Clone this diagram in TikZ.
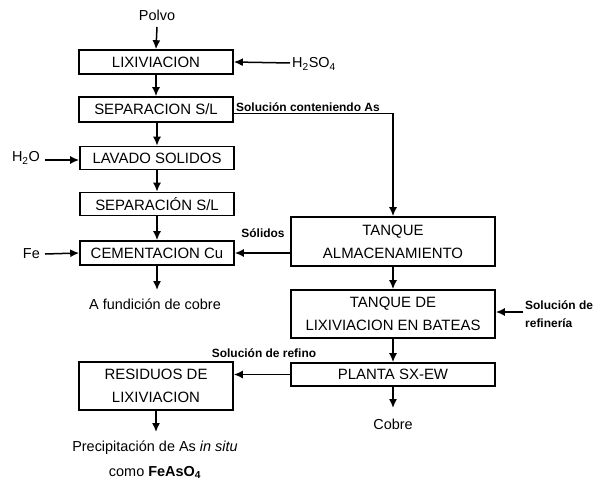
\documentclass[tikz,border=0pt]{standalone}
\usepackage{fontspec}
\setmainfont{Liberation Sans}
\usetikzlibrary{arrows.meta}
\begin{document}
\begin{tikzpicture}[x=1bp,y=-1bp,
  box/.style={draw, line width=1.6bp, inner sep=0pt, align=center,
    font=\fontsize{15}{23}\selectfont},
  lbox/.style={box, minimum width=154bp, minimum height=24bp},
  rbox/.style={box, minimum width=204bp},
  lbl/.style={inner sep=0pt, font=\fontsize{14.5}{25}\selectfont, align=center},
  slbl/.style={inner sep=0pt, font=\bfseries\fontsize{12}{18}\selectfont, align=left},
  arr/.style={line width=1.5bp, -{Latex[length=9bp,width=8bp]}},
  ln/.style={line width=1.5bp}]
\useasboundingbox (0,0) rectangle (603,480);
% left column
\node[lbox] (lix) at (156,62) {LIXIVIACION};
\node[lbox, minimum height=25bp] (sep1) at (156,109.5) {SEPARACION S/L};
\node[lbox, minimum height=23bp] (lav) at (157,158) {LAVADO SOLIDOS};
\node[lbox, minimum height=23bp] (sep2) at (157,204) {SEPARACIÓN S/L};
\node[lbox] (cem) at (157,253) {CEMENTACION Cu};
\node[lbox, minimum height=48bp] (res) at (156,386) {RESIDUOS DE\\LIXIVIACION};
% right column
\node[rbox, minimum height=49bp] (tal) at (393,241.5) {TANQUE\\ALMACENAMIENTO};
\node[rbox, minimum height=48bp] (tlb) at (393,314) {TANQUE DE\\LIXIVIACION EN BATEAS};
\node[rbox, minimum height=23bp] (sx) at (393,374.5) {PLANTA SX-EW};
% outer labels
\node[lbl] (polvo) at (157,15) {Polvo};
\coordinate (polvoE) at (157,27);
\node[lbl, anchor=west] (h2so4) at (292,64) {H\textsubscript{2}SO\textsubscript{4}};
\coordinate (h2so4S) at (290,63);
\node[lbl, anchor=east] (h2o) at (40,158) {H\textsubscript{2}O};
\coordinate (h2oS) at (45,160);
\node[lbl, anchor=east] (fe) at (40,254) {Fe};
\coordinate (feS) at (45,254);
\node[lbl] (afund) at (155,304) {A fundición de cobre};
\coordinate (afundE) at (157,290);
\node[lbl] (cobre) at (393,424) {Cobre};
\coordinate (cobreE) at (393,408);
\node[lbl] (prec) at (155,460) {Precipitación de As \textit{in situ}\\como \textbf{FeAsO\textsubscript{4}}};
\coordinate (precE) at (156,432);
\node[slbl, anchor=south west] (solas) at (236,112) {Solución conteniendo As};
\node[slbl] (solidos) at (263,233) {Sólidos};
\node[slbl] (solref) at (264,353) {Solución de refino};
\node[slbl, anchor=west] (solrefi) at (525,314) {Solución de\\refinería};
\coordinate (solrefiS) at (523,312);
% connectors
\draw[arr] (polvoE) -- (lix.north);
\draw[arr] (h2so4S) -- (lix.east);
\draw[arr] (lix.south) -- (sep1.north);
\draw[arr] ([xshift=1bp]sep1.south) -- ([xshift=0bp]lav.north);
\draw[arr] (h2oS) -- (h2oS -| lav.west);
\draw[arr] (lav.south) -- (sep2.north);
\draw[arr] (sep2.south) -- (cem.north);
\draw[arr] (feS) -- (cem.west);
\draw[arr] (cem.south) -- (afundE);
\draw[arr] ([yshift=-4bp]sep1.east) -| (tal.north);
\draw[arr] (tal.west |- cem.east) -- (cem.east);
\draw[arr] (tal.south) -- (tlb.north);
\draw[arr] (solrefiS) -- (solrefiS -| tlb.east);
\draw[arr] (tlb.south) -- (sx.north);
\draw[arr] (sx.south) -- (cobreE);
\draw[arr] (sx.west) -- (sx.west -| res.east);
\draw[arr] (res.south) -- (precE);
\end{tikzpicture}
\end{document}
